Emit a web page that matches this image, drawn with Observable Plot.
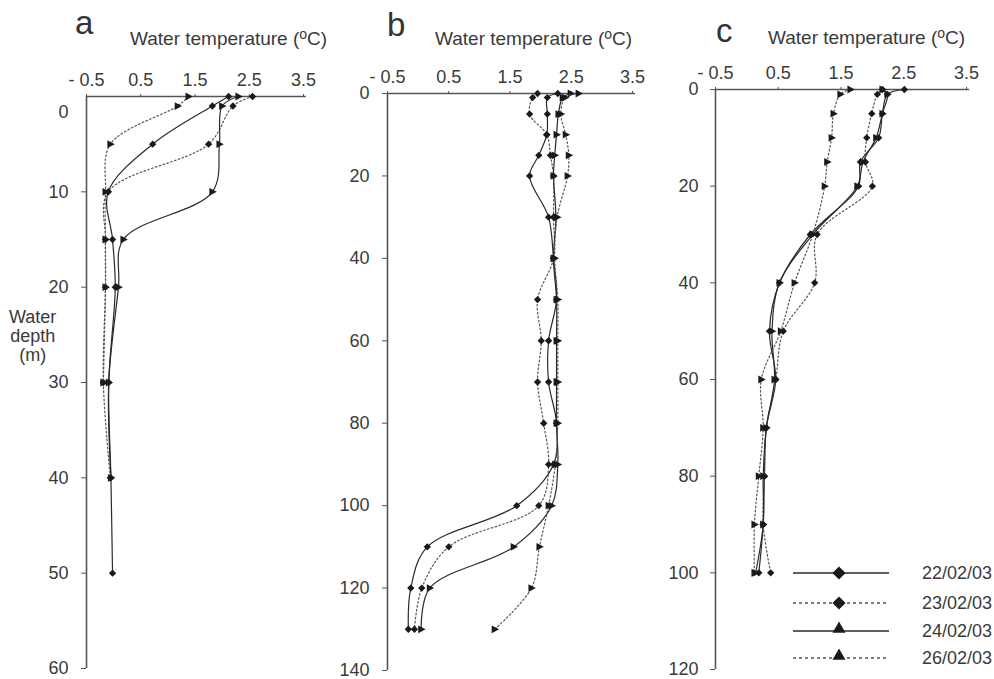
<!DOCTYPE html>
<html>
<head>
<meta charset="utf-8">
<script src="https://cdn.jsdelivr.net/npm/d3@7"></script>
<script src="https://cdn.jsdelivr.net/npm/@observablehq/plot@0.6"></script>
<style>
  html, body { margin: 0; padding: 0; background: #fff; }
  #root { position: relative; width: 994px; height: 679px; overflow: hidden; font-family: "Liberation Sans", Arial, sans-serif; color: #3a3a3a; }
  .panel { position: absolute; top: 0; }
  .letter { position: absolute; font-size: 33px; line-height: 1; color: #333; }
  .xtitle { position: absolute; font-size: 19px; line-height: 1; white-space: nowrap; color: #3a3a3a; }
  .xtitle sup { font-size: 14px; position: relative; top: -2px; vertical-align: top; }
  .ytitle { position: absolute; font-size: 18px; line-height: 19px; text-align: center; color: #3a3a3a; }
</style>
</head>
<body>
<div id="root"></div>
<script>
// ---------- data ----------
const seriesNames = ["22/02/03", "23/02/03", "24/02/03", "26/02/03"];
const tempTicks = [-0.5, 0.5, 1.5, 2.5, 3.5];

// Panel a
const aDepth22 = [0, 1, 5, 10, 15, 20, 30, 40, 50];
const aTemp22  = [2.12, 1.82, 0.72, -0.10, -0.02, 0.03, -0.09, -0.05, -0.02];
const aDepth23 = [0, 1, 5, 10, 15, 20, 30, 40];
const aTemp23  = [2.56, 2.20, 1.75, -0.10, -0.15, -0.15, -0.19, -0.06];
const aDepth24 = [0, 1, 5, 10, 15, 20, 30, 40];
const aTemp24  = [2.30, 2.00, 1.95, 1.82, 0.18, 0.09, -0.09, -0.05];
const aDepth26 = [0, 1, 5, 10, 15, 20, 30];
const aTemp26  = [1.38, 1.18, -0.06, -0.15, -0.15, -0.15, -0.19];
const aDepthTicks = [10, 20, 30, 40, 50, 60];

// Panel b
const bDepth = [0, 1, 5, 10, 15, 20, 30, 40, 50, 60, 70, 80, 90, 100, 110, 120, 130];
const bTemp22 = [2.28, 2.11, 2.11, 2.10, 1.97, 1.82, 2.13, 2.21, 2.26, 2.13, 2.13, 2.26, 2.21, 1.61, 0.15, -0.12, -0.16];
const bTemp23 = [1.95, 1.87, 1.82, 2.10, 2.16, 2.21, 2.21, 2.21, 1.95, 2.01, 1.95, 2.05, 2.13, 1.97, 0.50, 0.06, -0.06];
const bTemp24 = [2.49, 2.36, 2.29, 2.26, 2.23, 2.21, 2.25, 2.21, 2.26, 2.26, 2.26, 2.26, 2.28, 2.18, 1.56, 0.19, 0.05];
const bTemp26 = [2.62, 2.40, 2.33, 2.41, 2.46, 2.44, 2.27, 2.23, 2.28, 2.28, 2.28, 2.28, 2.24, 2.13, 1.98, 1.85, 1.25];
const bDepthTicks = [0, 20, 40, 60, 80, 100, 120, 140];

// Panel c
const cDepth = [0, 1, 5, 10, 15, 20, 30, 40, 50, 60, 70, 80, 90, 100];
const cTemp22 = [2.51, 2.24, 2.16, 2.10, 1.81, 1.78, 1.01, 0.52, 0.36, 0.46, 0.31, 0.28, 0.26, 0.19];
const cTemp23 = [2.16, 2.08, 1.99, 1.91, 1.89, 2.00, 1.12, 1.08, 0.58, 0.46, 0.31, 0.28, 0.26, 0.38];
const cTemp24 = [2.16, 2.24, 2.16, 2.06, 1.85, 1.76, 1.05, 0.52, 0.40, 0.44, 0.31, 0.26, 0.26, 0.14];
const cTemp26 = [1.65, 1.49, 1.38, 1.35, 1.28, 1.24, 1.05, 0.76, 0.54, 0.23, 0.26, 0.19, 0.12, 0.12];
const cDepthTicks = [0, 20, 40, 60, 80, 100, 120];

// ---------- helpers ----------
const zip = (depths, temps) => depths.map((d, i) => ({depth: d, temp: temps[i]}));
const triRight = {
  draw(ctx, size) {
    const s = Math.sqrt(size);
    ctx.moveTo(s * 0.62, 0);
    ctx.lineTo(-s * 0.42, -s * 0.55);
    ctx.lineTo(-s * 0.42, s * 0.55);
    ctx.closePath();
  }
};
const styles = [
  {dash: null, symbol: "diamond2", color: "#2a2a2a"},
  {dash: "1.6,2.4", symbol: "diamond2", color: "#555"},
  {dash: null, symbol: triRight, color: "#2a2a2a"},
  {dash: "1.6,2.4", symbol: triRight, color: "#555"}
];
const fmtT = d => d < 0 ? "- " + Math.abs(d).toFixed(1) : d.toFixed(1);
const FS = 18;

function panel(series, {left, width, mL, mR, mT, mB, yMax, yTicks, tickPadY, zeroShift}) {
  const marks = [];
  // axis lines
  marks.push(Plot.ruleX([-0.5], {y1: 0, y2: yMax, stroke: "#555", strokeWidth: 1.6}));
  marks.push(Plot.ruleY([0], {x1: -0.5, x2: 3.55, stroke: "#555", strokeWidth: 1.6}));
  marks.push(Plot.axisX({anchor: "top", ticks: tempTicks, tickFormat: fmtT, tickSize: 3, tickPadding: 8,
    fontSize: FS, fill: "#3a3a3a", stroke: "#555", label: null}));
  marks.push(Plot.axisY({anchor: "left", ticks: yTicks, tickSize: 5, tickPadding: tickPadY,
    fontSize: FS, fill: "#3a3a3a", stroke: "#555", label: null}));
  if (zeroShift) {
    marks.push(Plot.axisY({anchor: "left", ticks: [0], tickSize: 0, tickPadding: tickPadY + 5, dy: zeroShift,
      fontSize: FS, fill: "#3a3a3a", label: null}));
  }
  series.forEach((s, i) => {
    const st = styles[i];
    marks.push(Plot.line(s, {x: "temp", y: "depth", curve: "catmull-rom", stroke: st.color,
      strokeWidth: 1.2, strokeDasharray: st.dash}));
    marks.push(Plot.dot(s, {x: "temp", y: "depth", symbol: st.symbol, r: st.symbol === triRight ? 4 : 3.3,
      fill: "#1a1a1a", stroke: "none"}));
  });
  const p = Plot.plot({
    width, height: 679,
    marginLeft: mL, marginRight: mR, marginTop: mT, marginBottom: mB,
    style: {background: "transparent", overflow: "visible", fontFamily: "'Liberation Sans', Arial, sans-serif"},
    x: {domain: [-0.5, 3.5], axis: null},
    y: {domain: [0, yMax], reverse: true, axis: null},
    marks
  });
  const div = document.createElement("div");
  div.className = "panel";
  div.style.left = left + "px";
  div.style.width = width + "px";
  div.appendChild(p);
  return div;
}

const root = document.getElementById("root");

root.appendChild(panel(
  [zip(aDepth22, aTemp22), zip(aDepth23, aTemp23), zip(aDepth24, aTemp24), zip(aDepth26, aTemp26)],
  {left: 0, width: 330, mL: 86, mR: 27, mT: 96, mB: 11, yMax: 60, yTicks: aDepthTicks, tickPadY: 13, zeroShift: 16}
));
root.appendChild(panel(
  [zip(bDepth, bTemp22), zip(bDepth, bTemp23), zip(bDepth, bTemp24), zip(bDepth, bTemp26)],
  {left: 330, width: 320, mL: 57, mR: 18, mT: 93, mB: 9, yMax: 140, yTicks: bDepthTicks, tickPadY: 13}
));
root.appendChild(panel(
  [zip(cDepth, cTemp22), zip(cDepth, cTemp23), zip(cDepth, cTemp24), zip(cDepth, cTemp26)],
  {left: 650, width: 344, mL: 65, mR: 28, mT: 89, mB: 10, yMax: 120, yTicks: cDepthTicks, tickPadY: 12}
));

// titles and letters
function addText(cls, html, x, y) {
  const el = document.createElement("div");
  el.className = cls;
  el.innerHTML = html;
  el.style.left = x + "px";
  el.style.top = y + "px";
  root.appendChild(el);
  return el;
}
const xTitle = 'Water temperature (<sup>o</sup>C)';
addText("letter", "a", 75, 6);
addText("letter", "b", 387, 8);
addText("letter", "c", 716, 14);
addText("xtitle", xTitle, 130, 29);
addText("xtitle", xTitle, 435, 29);
addText("xtitle", xTitle, 768, 28);
addText("ytitle", "Water<br>depth<br>(m)", 9, 308);

// legend
const legendRows = [573, 603, 631, 658];
const lg = d3.select(root).append("svg")
  .attr("width", 994).attr("height", 679)
  .style("position", "absolute").style("left", 0).style("top", 0).style("pointer-events", "none");
seriesNames.forEach((name, i) => {
  const y = legendRows[i];
  const st = styles[i];
  lg.append("line").attr("x1", 793).attr("x2", 889).attr("y1", y).attr("y2", y)
    .attr("stroke", st.color).attr("stroke-width", 1.5)
    .attr("stroke-dasharray", st.dash ? "3,3" : null);
  const sym = i < 2 ? d3.symbolDiamond2 : d3.symbolTriangle2;
  lg.append("path").attr("d", d3.symbol(sym, i < 2 ? 110 : 120)())
    .attr("transform", `translate(839,${i < 2 ? y : y - 2})`).attr("fill", "#1a1a1a");
  lg.append("text").attr("x", 922).attr("y", y).attr("dy", "0.35em")
    .attr("font-size", FS).attr("fill", "#3a3a3a")
    .attr("font-family", "'Liberation Sans', Arial, sans-serif").text(name);
});
</script>
</body>
</html>
